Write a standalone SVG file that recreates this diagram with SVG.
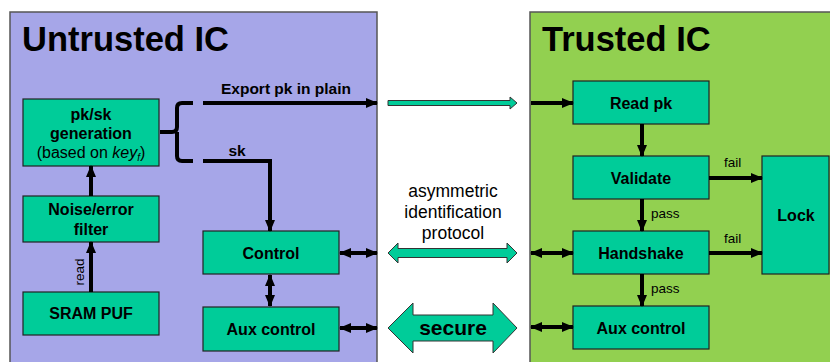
<svg xmlns="http://www.w3.org/2000/svg" width="830" height="362" viewBox="0 0 830 362">
  <style>
    .panel-u { fill: #A6A6E8; stroke: #555; stroke-width: 1.5; }
    .panel-t { fill: #92D050; stroke: #555; stroke-width: 1.5; }
    .box { fill: #00CC99; stroke: #222; stroke-width: 1.2; }
    .title { font-family: "Liberation Sans", Arial, sans-serif; font-weight: bold; font-size: 34.5px; fill: #000; }
    .lbl { font-family: "Liberation Sans", Arial, sans-serif; font-weight: bold; font-size: 16px; fill: #000; text-anchor: middle; }
    .sm { font-family: "Liberation Sans", Arial, sans-serif; font-size: 13.5px; fill: #000; }
    .mid { font-family: "Liberation Sans", Arial, sans-serif; font-size: 17.5px; fill: #000; text-anchor: middle; }
    .wire { fill: none; stroke: #000; stroke-width: 4; }
    .wire-e { fill: none; stroke: #000; stroke-width: 4; marker-end: url(#ah); }
    .wire-2 { fill: none; stroke: #000; stroke-width: 4; marker-start: url(#ahs); marker-end: url(#ah); }
    .hollow { fill: #00CC99; stroke: #333; stroke-width: 1; }
  </style>
  <defs>
    <marker id="ah" markerUnits="userSpaceOnUse" markerWidth="12" markerHeight="12" refX="11" refY="6" orient="auto">
      <path d="M0,1 L12,6 L0,11 Z" fill="#000"/>
    </marker>
    <marker id="ahs" markerUnits="userSpaceOnUse" markerWidth="12" markerHeight="12" refX="1" refY="6" orient="auto">
      <path d="M12,1 L0,6 L12,11 Z" fill="#000"/>
    </marker>
  </defs>

  <!-- panels -->
  <g id="untrusted-ic">
    <rect class="panel-u" x="10" y="12" width="367" height="360"/>
    <text class="title" x="22" y="51">Untrusted IC</text>
  </g>
  <g id="trusted-ic">
    <rect class="panel-t" x="530" y="12" width="310" height="360"/>
    <text class="title" x="542" y="51">Trusted IC</text>
  </g>

  <!-- untrusted nodes -->
  <g id="pksk-gen">
    <rect class="box" x="23" y="99" width="136" height="67"/>
    <text class="lbl" x="91" y="120">pk/sk</text>
    <text class="lbl" x="91" y="139">generation</text>
    <text class="lbl" x="91" y="158" style="font-weight:normal;font-size:16px">(based on <tspan font-style="italic">key</tspan><tspan font-style="italic" style="font-size:10px" dy="3">f</tspan><tspan dy="-3">)</tspan></text>
  </g>
  <g id="noise-filter">
    <rect class="box" x="23" y="196" width="136" height="46"/>
    <text class="lbl" x="91" y="215">Noise/error</text>
    <text class="lbl" x="91" y="235">filter</text>
  </g>
  <g id="sram-puf">
    <rect class="box" x="23" y="292" width="136" height="43"/>
    <text class="lbl" x="91" y="319">SRAM PUF</text>
  </g>
  <g id="control">
    <rect class="box" x="203" y="231" width="136" height="43"/>
    <text class="lbl" x="271" y="259">Control</text>
  </g>
  <g id="aux-control-u">
    <rect class="box" x="203" y="307" width="136" height="44"/>
    <text class="lbl" x="271" y="335">Aux control</text>
  </g>

  <!-- trusted nodes -->
  <g id="read-pk">
    <rect class="box" x="573" y="81" width="136" height="43"/>
    <text class="lbl" x="641" y="109">Read pk</text>
  </g>
  <g id="validate">
    <rect class="box" x="573" y="156" width="136" height="43"/>
    <text class="lbl" x="641" y="184">Validate</text>
  </g>
  <g id="handshake">
    <rect class="box" x="573" y="231" width="136" height="43"/>
    <text class="lbl" x="641" y="259">Handshake</text>
  </g>
  <g id="aux-control-t">
    <rect class="box" x="573" y="306" width="136" height="43"/>
    <text class="lbl" x="641" y="334">Aux control</text>
  </g>
  <g id="lock">
    <rect class="box" x="762" y="156" width="67" height="118"/>
    <text class="lbl" x="796" y="221">Lock</text>
  </g>

  <!-- channel between the two ICs -->
  <g id="channel">
    <path class="hollow" d="M388,100.5 H510 V97 L517,103 L510,109 V105.5 H388 Z"/>
    <text class="mid" x="453" y="197">asymmetric</text>
    <text class="mid" x="453" y="218">identification</text>
    <text class="mid" x="453" y="239">protocol</text>
    <path class="hollow" d="M388,253 L398,243 V248.5 H507 V243 L517,253 L507,263 V257.5 H398 V263 Z"/>
    <path class="hollow" d="M388,328 L413,303 V315 H493 V303 L517,328 L493,353 V341 H413 V353 Z"/>
    <text class="lbl" x="453" y="335" style="font-size:21px">secure</text>
  </g>

  <!-- connectors -->
  <g id="connectors">
    <!-- brace splitting pk and sk -->
    <path class="wire" d="M160,132 H172 Q177,132 177,127 V108 Q177,103 182,103 H193"/>
    <path class="wire" d="M177,132 V156 Q177,161 182,161 H193"/>
    <path class="wire-e" d="M203,103 H377"/>
    <text class="lbl" x="286" y="94" style="font-size:15.5px">Export pk in plain</text>
    <path class="wire-e" d="M203,161 H270 V231"/>
    <text class="lbl" x="237" y="156" style="font-size:15.5px">sk</text>

    <path class="wire-e" d="M91,196 V166"/>
    <path class="wire-e" d="M91,292 V242"/>
    <text class="sm" transform="translate(84,272) rotate(-90)" text-anchor="middle">read</text>

    <path class="wire-2" d="M270,275 V306"/>
    <path class="wire-2" d="M340,253 H377"/>
    <path class="wire-2" d="M340,328 H377"/>

    <path class="wire-e" d="M531,103 H573"/>
    <path class="wire-2" d="M531,253 H573"/>
    <path class="wire-2" d="M531,327 H573"/>

    <path class="wire-e" d="M642,124 V156"/>
    <path class="wire-e" d="M642,199 V231"/>
    <text class="sm" x="651" y="218">pass</text>
    <path class="wire-e" d="M642,274 V306"/>
    <text class="sm" x="651" y="293">pass</text>

    <path class="wire-e" d="M709,178 H762"/>
    <text class="sm" x="724" y="167">fail</text>
    <path class="wire-e" d="M709,253 H762"/>
    <text class="sm" x="724" y="243">fail</text>
  </g>
</svg>
